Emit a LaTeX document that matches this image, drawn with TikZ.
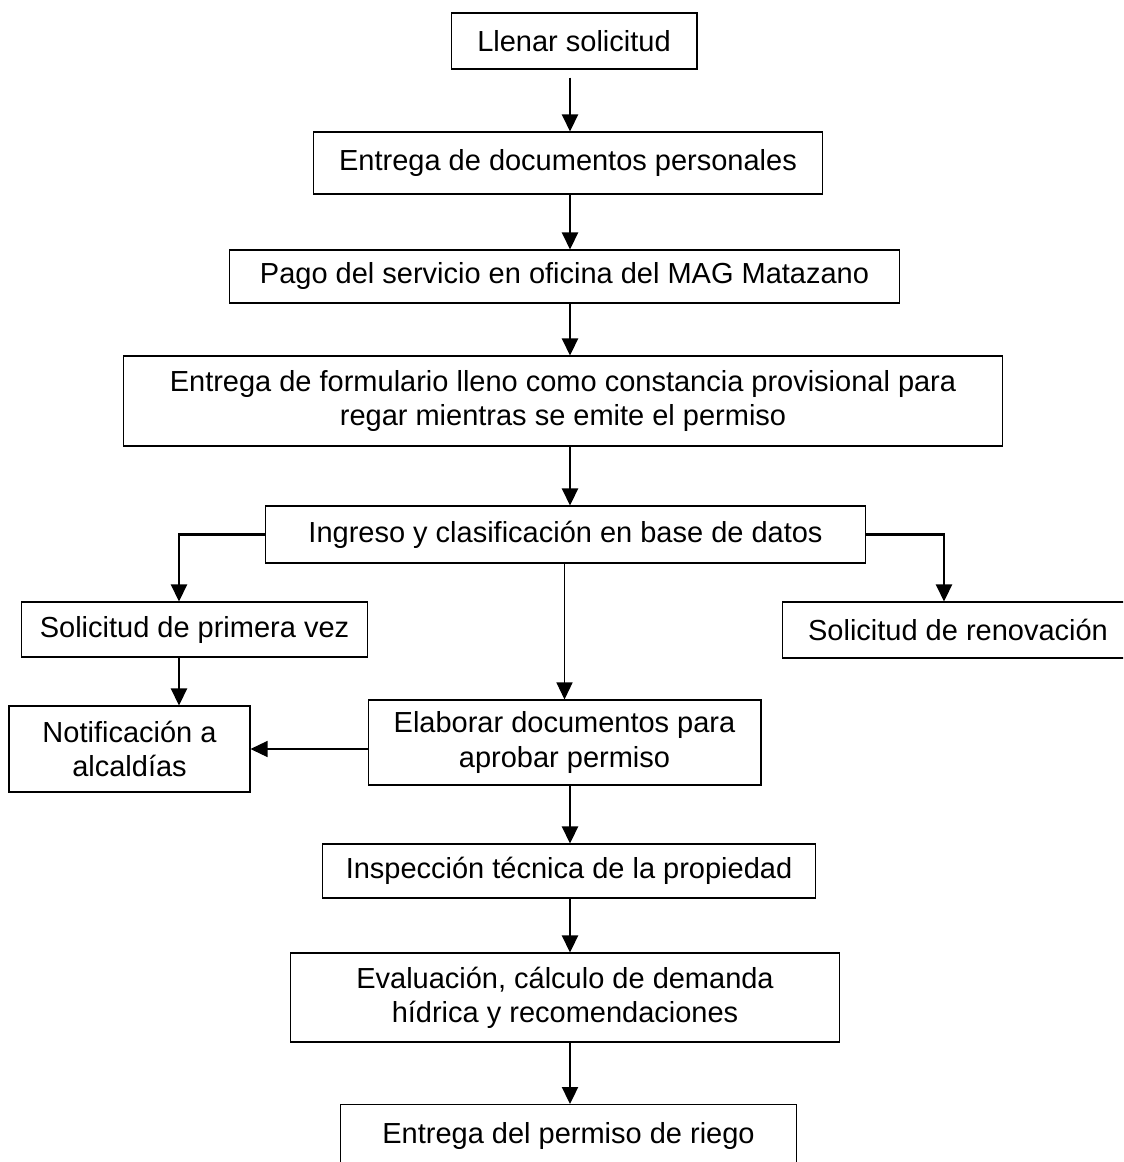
\documentclass[tikz,border=0pt]{standalone}
\usepackage{fontspec}
\setmainfont{Liberation Sans}
\usetikzlibrary{arrows.meta}

\tikzset{
  caja/.style={draw, rectangle, line width=0.6pt, inner sep=0pt, align=center,
    font=\fontsize{16.5}{19.5}\selectfont},
  flecha/.style={-{Triangle[length=0.34cm,width=0.32cm]}, line width=1.3pt},
  flechafina/.style={-{Triangle[length=0.34cm,width=0.32cm]}, line width=0.7pt}
}

\begin{document}
\begin{tikzpicture}[x=0.02cm,y=-0.02cm]
  \clip (0,0) rectangle (1123,1162);

  \begin{scope}[every node/.style={caja}]
    \node[minimum width=4.92cm,  minimum height=1.12cm] (1)  at (574,41)     {Llenar solicitud};
    \node[minimum width=10.20cm, minimum height=1.24cm] (2)  at (568,163)    {Entrega de documentos personales};
    \node[minimum width=13.42cm, minimum height=1.06cm] (3)  at (564.5,276.5) {Pago del servicio en oficina del MAG Matazano};
    \node[minimum width=17.60cm, minimum height=1.80cm] (4)  at (563,401)    {Entrega de formulario lleno como constancia provisional para\\regar mientras se emite el permiso};
    \node[minimum width=12.02cm, minimum height=1.14cm] (5)  at (565.5,534.5) {Ingreso y clasificación en base de datos};
    \node[minimum width=6.94cm,  minimum height=1.10cm] (6)  at (194.5,629.5) {Solicitud de primera vez};
    \node[minimum width=4.82cm,  minimum height=1.72cm] (7)  at (129.5,749)  {Notificación a\\alcaldías};
    \node[minimum width=7.04cm,  minimum height=1.12cm] (8)  at (958,630)    {Solicitud de renovación};
    \node[minimum width=7.86cm,  minimum height=1.70cm] (9)  at (564.5,742.5) {Elaborar documentos para\\aprobar permiso};
    \node[minimum width=9.88cm,  minimum height=1.08cm] (10) at (569,871)    {Inspección técnica de la propiedad};
    \node[minimum width=11.00cm, minimum height=1.78cm] (11) at (565,997.5)  {Evaluación, cálculo de demanda\\hídrica y recomendaciones};
    \node[anchor=north, minimum width=9.14cm, text height=0.78cm, text depth=1cm] (12) at (568.5,1104) {Entrega del permiso de riego};
  \end{scope}

  \coordinate (c) at (570,0);
  \coordinate (l) at (179,0);
  \coordinate (r) at (944,0);

  \draw[flecha, shorten <=0.16cm] (1.south -| c) -- (2.north -| c);
  \draw[flecha] (2.south -| c) -- (3.north -| c);
  \draw[flecha] (3.south -| c) -- (4.north -| c);
  \draw[flecha] (4.south -| c) -- (5.north -| c);
  \draw[flechafina] (5.south -| 9.north) -- (9.north);
  \draw[flecha] (5.west) -| (6.north -| l);
  \draw[flecha] (5.east) -| (8.north -| r);
  \draw[flecha] (6.south -| l) -- (7.north -| l);
  \draw[flechafina] (7.east -| 9.west) -- (7.east);
  \draw[flecha] (9.south -| c) -- (10.north -| c);
  \draw[flecha] (10.south -| c) -- (11.north -| c);
  \draw[flecha] (11.south -| c) -- (12.north -| c);

\end{tikzpicture}
\end{document}
